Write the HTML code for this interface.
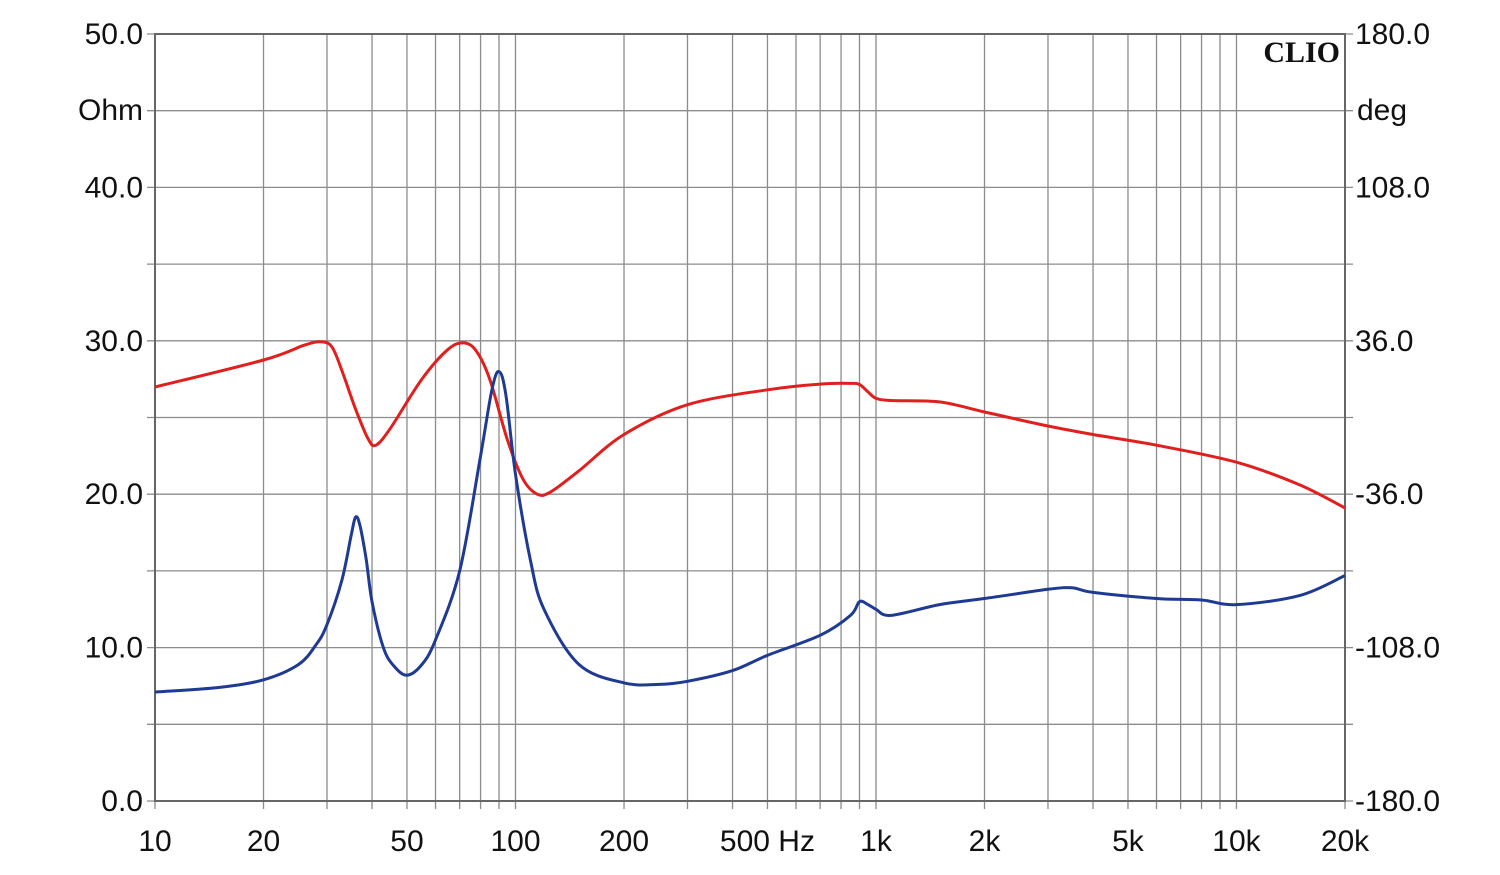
<!DOCTYPE html>
<html><head><meta charset="utf-8"><style>
html,body{margin:0;padding:0;background:#fff;}
svg text{font-family:"Liberation Sans",sans-serif;font-size:30px;fill:#111;}
</style></head><body>
<svg id="chart" width="1500" height="870" xmlns="http://www.w3.org/2000/svg">
<g id="grid"></g>
<g id="axes"></g>
<g id="series"></g>
<text x="1340" y="62" text-anchor="end" style="font-family:'Liberation Serif',serif;font-weight:bold;font-size:30px;">CLIO</text>
</svg>
<script>
const freqTicks=[10,20,50,100,200,500,1000,2000,5000,10000,20000];
const freqTickLabels=["10","20","50","100","200","500 Hz","1k","2k","5k","10k","20k"];
const ohmTicks=[0,10,20,30,40,50];
const ohmTickLabels=["0.0","10.0","20.0","30.0","40.0","50.0"];
const degTicks=[-180,-108,-36,36,108,180];
const degTickLabels=["-180.0","-108.0","-36.0","36.0","108.0","180.0"];
const impFreq=[10,15,20,25,28,30,33,35,36,37,38.5,40,43,46,50,55,60,70,80,86,90,94,100,110,120,150,200,250,300,400,500,700,850,900,950,1000,1100,1500,2000,3000,3500,4000,6000,8000,10000,15000,20000];
const impOhm=[7.1,7.4,7.9,8.9,10.2,11.5,14.4,17.3,18.5,18,15.8,13,10,8.8,8.2,8.9,10.5,15,22.5,26.8,28,26.5,21.3,15.7,12.5,8.9,7.7,7.6,7.8,8.5,9.5,10.8,12.1,13,12.8,12.5,12.1,12.8,13.2,13.8,13.9,13.6,13.2,13.1,12.8,13.4,14.7];
const phFreq=[10,20,26,29,31,33,36,39,41,45,55,65,72,78,85,95,105,115,125,150,200,300,500,700,850,900,950,1000,1100,1500,2000,3000,4000,6000,10000,15000,20000];
const phDeg=[14.3,27,34,35.5,33,22,4,-10,-13,-5,18,32,35,31,17.6,-10.6,-29,-36,-35,-25,-8,6,13,15.7,16,15.5,12,9,8,7.3,2.6,-4,-8,-13,-21,-31.7,-42.5];
const L=155,R=1345,T=34,B=801;
const xs=f=>L+(Math.log10(f)-1)*(R-L)/Math.log10(2000);
const yOhm=v=>B-(v/50)*(B-T);
const yDeg=v=>B-((v+180)/360)*(B-T);
const NS="http://www.w3.org/2000/svg";
function mk(tag,attrs,parent){const e=document.createElementNS(NS,tag);for(const k in attrs)e.setAttribute(k,attrs[k]);parent.appendChild(e);return e;}
const grid=document.getElementById('grid'),axes=document.getElementById('axes'),series=document.getElementById('series');
for(let d=10;d<=10000;d*=10){for(let m=1;m<=9;m++){const f=d*m;if(f>20000)break;
 const x=xs(f);const l=mk('line',{x1:x,x2:x,y1:T,y2:B+8,stroke:'#8c8c8c','stroke-width':1.3},grid);
 
 }}
for(let v=0;v<=50;v+=5){const y=yOhm(v);const l=mk('line',{x1:L-8,x2:R+8,y1:y,y2:y,stroke:'#8c8c8c','stroke-width':1.3},grid);
 
 }
const fr=mk('rect',{x:L,y:T,width:R-L,height:B-T,fill:'none',stroke:'#666','stroke-width':2},axes);


freqTicks.forEach((f,i)=>{const t=mk('text',{x:xs(f),y:851,'text-anchor':'middle'},axes);t.textContent=freqTickLabels[i];
 
 });
ohmTicks.forEach((v,i)=>{const t=mk('text',{x:143,y:yOhm(v)+10,'text-anchor':'end'},axes);t.textContent=ohmTickLabels[i];
 
 });
degTicks.forEach((v,i)=>{const t=mk('text',{x:1355,y:yDeg(v)+10,'text-anchor':'start'},axes);t.textContent=degTickLabels[i];
 
 });
const u1=mk('text',{x:143,y:120,'text-anchor':'end'},axes);u1.textContent='Ohm';


const u2=mk('text',{x:1357,y:120,'text-anchor':'start'},axes);u2.textContent='deg';


function smoothPath(fx,fy,xsArr,ysArr){
 const p=xsArr.map((f,i)=>[fx(f),fy(ysArr[i])]);
 let d='M'+p[0][0].toFixed(1)+','+p[0][1].toFixed(1);
 for(let i=0;i<p.length-1;i++){
  const p0=p[Math.max(0,i-1)],p1=p[i],p2=p[i+1],p3=p[Math.min(p.length-1,i+2)];
  const c1=[p1[0]+(p2[0]-p0[0])/6,p1[1]+(p2[1]-p0[1])/6];
  const c2=[p2[0]-(p3[0]-p1[0])/6,p2[1]-(p3[1]-p1[1])/6];
  d+=' C'+c1[0].toFixed(1)+','+c1[1].toFixed(1)+' '+c2[0].toFixed(1)+','+c2[1].toFixed(1)+' '+p2[0].toFixed(1)+','+p2[1].toFixed(1);
 }
 return d;}
const pp=mk('path',{d:smoothPath(xs,yDeg,phFreq,phDeg),fill:'none',stroke:'#e0201f','stroke-width':3,'stroke-linejoin':'round'},series);


const ip=mk('path',{d:smoothPath(xs,yOhm,impFreq,impOhm),fill:'none',stroke:'#1f3a93','stroke-width':3,'stroke-linejoin':'round'},series);


</script>
</body></html>
